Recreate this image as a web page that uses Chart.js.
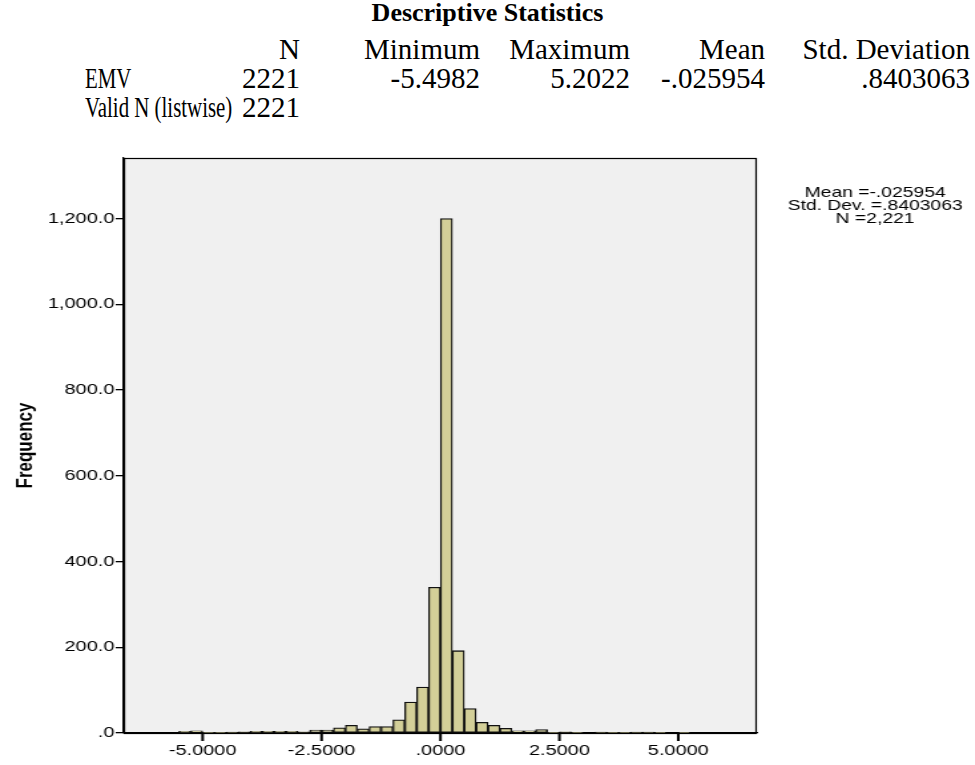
<!DOCTYPE html>
<html>
<head>
<meta charset="utf-8">
<script src="https://cdn.jsdelivr.net/npm/chart.js@4.4.1/dist/chart.umd.min.js"></script>
<style>
  html, body { margin: 0; padding: 0; background: #fff; }
  body { width: 975px; height: 765px; position: relative; overflow: hidden; }
  .t { position: absolute; font-family: "Liberation Serif", "Times New Roman", serif; font-size: 29px; color: #000; line-height: 30px; white-space: nowrap; }
  #wrap { position: absolute; left: 0; top: 140px; transform: scaleX(1.33); transform-origin: 0 0; }
</style>
</head>
<body>
<div class="t" style="left:0;width:975px;top:-2px;text-align:center;font-weight:bold;font-size:26px;">Descriptive Statistics</div>
<div id="table"></div>
<div id="wrap"><canvas id="c" width="733" height="625"></canvas></div>
<script>
// ---- Descriptive statistics table ----
const statHeaders = ["N", "Minimum", "Maximum", "Mean", "Std. Deviation"];
const statRowLabels = ["EMV", "Valid N (listwise)"];
const emvStats = ["2221", "-5.4982", "5.2022", "-.025954", ".8403063"];
const validStats = ["2221"];

// ---- Histogram data (bin left edges, width 0.25) ----
const binLeftEdges = [-5.5, -5.25, -5.0, -4.75, -4.5, -4.25, -4.0, -3.75, -3.5, -3.25,
  -3.0, -2.75, -2.5, -2.25, -2.0, -1.75, -1.5, -1.25, -1.0, -0.75,
  -0.5, -0.25, 0.0, 0.25, 0.5, 0.75, 1.0, 1.25, 1.5, 1.75,
  2.0, 2.25, 2.5, 2.75, 3.0, 3.25, 3.5, 3.75, 4.0, 4.25,
  4.5, 4.75, 5.0];
const binWidth = 0.25;
const frequencies = [4, 5, 1, 1, 2, 3, 4, 4, 4, 4,
  3, 7, 7, 12, 18, 10, 15, 15, 31, 72,
  107, 340, 1200, 192, 57, 25, 18, 11, 5, 5,
  8, 1, 3, 1, 0, 2, 1, 1, 2, 2,
  1, 0, 1];

const xTickValues = [-5.0, -2.5, 0.0, 2.5, 5.0];
const xTickLabels = ["-5.0000", "-2.5000", ".0000", "2.5000", "5.0000"];
const yTickValues = [0, 200, 400, 600, 800, 1000, 1200];
const yTickLabels = [".0", "200.0", "400.0", "600.0", "800.0", "1,000.0", "1,200.0"];
const legendLines = ["Mean =-.025954", "Std. Dev. =.8403063", "N =2,221"];

// build table
(function () {
  const host = document.getElementById('table');
  const colRight = [300, 480, 630, 765, 970];
  const rowTop = [34, 63, 92];
  function add(text, style) {
    const d = document.createElement('div');
    d.className = 't';
    d.textContent = text;
    Object.assign(d.style, style);
    host.appendChild(d);
  }
  statHeaders.forEach((h, i) => add(h, { right: (975 - colRight[i]) + 'px', top: rowTop[0] + 'px' }));
  const lab = { transform: 'scaleX(0.72)', transformOrigin: '0 0' };
  add(statRowLabels[0], Object.assign({ left: '85px', top: rowTop[1] + 'px' }, lab));
  emvStats.forEach((v, i) => add(v, { right: (975 - colRight[i]) + 'px', top: rowTop[1] + 'px' }));
  add(statRowLabels[1], Object.assign({ left: '85px', top: rowTop[2] + 'px' }, lab));
  validStats.forEach((v, i) => add(v, { right: (975 - colRight[i]) + 'px', top: rowTop[2] + 'px' }));
})();

const points = binLeftEdges.map((e, i) => ({ x: e + binWidth / 2, y: frequencies[i] }));

const framePlugin = {
  id: 'frame',
  beforeDraw(chart) {
    const { ctx, chartArea: a } = chart;
    ctx.save();
    ctx.fillStyle = '#f0f0f0';
    ctx.fillRect(a.left, a.top, a.right - a.left, a.bottom - a.top);
    ctx.restore();
  },
  afterDatasetsDraw(chart) {
    const { ctx, chartArea: a } = chart;
    ctx.save();
    ctx.strokeStyle = '#000';
    ctx.lineWidth = 1.2;
    ctx.strokeRect(a.left + 0.5, a.top + 0.5, a.right - a.left - 1, a.bottom - a.top);
    ctx.restore();
  },
  afterDraw(chart) {
    const { ctx, chartArea: a } = chart;
    const xs = chart.scales.x;
    ctx.save();
    // x-axis tick marks at the tick values
    ctx.fillStyle = '#000';
    xTickValues.forEach(v => {
      const px = xs.getPixelForValue(v);
      ctx.fillRect(px - 1, a.bottom, 2, 8);
    });
    // statistics note
    ctx.font = '14.5px "Liberation Sans", Arial, sans-serif';
    ctx.textAlign = 'center';
    ctx.textBaseline = 'middle';
    const cx = 658;
    legendLines.forEach((t, i) => ctx.fillText(t, cx, 53 + i * 13));
    ctx.restore();
  }
};

new Chart(document.getElementById('c'), {
  type: 'bar',
  data: {
    datasets: [{
      data: points,
      backgroundColor: '#d3cf98',
      borderColor: '#111',
      borderWidth: 1.3,
      borderSkipped: false,
      barPercentage: 1,
      categoryPercentage: 1,
      grouped: false
    }]
  },
  options: {
    responsive: false,
    animation: false,
    devicePixelRatio: 1,
    layout: { padding: { top: 18, right: 164, bottom: 0, left: 0 } },
    plugins: { legend: { display: false }, tooltip: { enabled: false } },
    scales: {
      x: {
        type: 'linear',
        min: -6.66,
        max: 6.65,
        offset: false,
        afterFit(s) { s.height = 32; },
        afterBuildTicks(s) { s.ticks = xTickValues.map(v => ({ value: v })); },
        ticks: {
          color: '#000',
          padding: 9,
          maxRotation: 0,
          font: { family: '"Liberation Sans", Arial, sans-serif', size: 15 },
          callback: (v) => { const i = xTickValues.indexOf(v); return i >= 0 ? xTickLabels[i] : ''; }
        },
        grid: { offset: false, display: false, drawOnChartArea: false, drawTicks: false },
        border: { display: true, color: '#000', width: 1.3 }
      },
      y: {
        min: 0,
        max: 1341,
        afterFit(s) { s.width = 93; },
        afterBuildTicks(s) { s.ticks = yTickValues.map(v => ({ value: v })); },
        ticks: {
          color: '#000',
          padding: 1,
          font: { family: '"Liberation Sans", Arial, sans-serif', size: 15 },
          callback: (v) => { const i = yTickValues.indexOf(v); return i >= 0 ? yTickLabels[i] : ''; }
        },
        grid: { drawOnChartArea: false, drawTicks: true, tickLength: 6, tickColor: '#000', tickWidth: 1.3, color: '#000', lineWidth: 1.3 },
        border: { display: true, color: '#000', width: 1.3 },
        title: {
          display: true,
          text: 'Frequency',
          color: '#000',
          padding: { top: 9, bottom: 0 },
          font: { family: '"Liberation Sans", Arial, sans-serif', size: 17, weight: 'bold' }
        }
      }
    }
  },
  plugins: [framePlugin]
});
</script>
</body>
</html>
